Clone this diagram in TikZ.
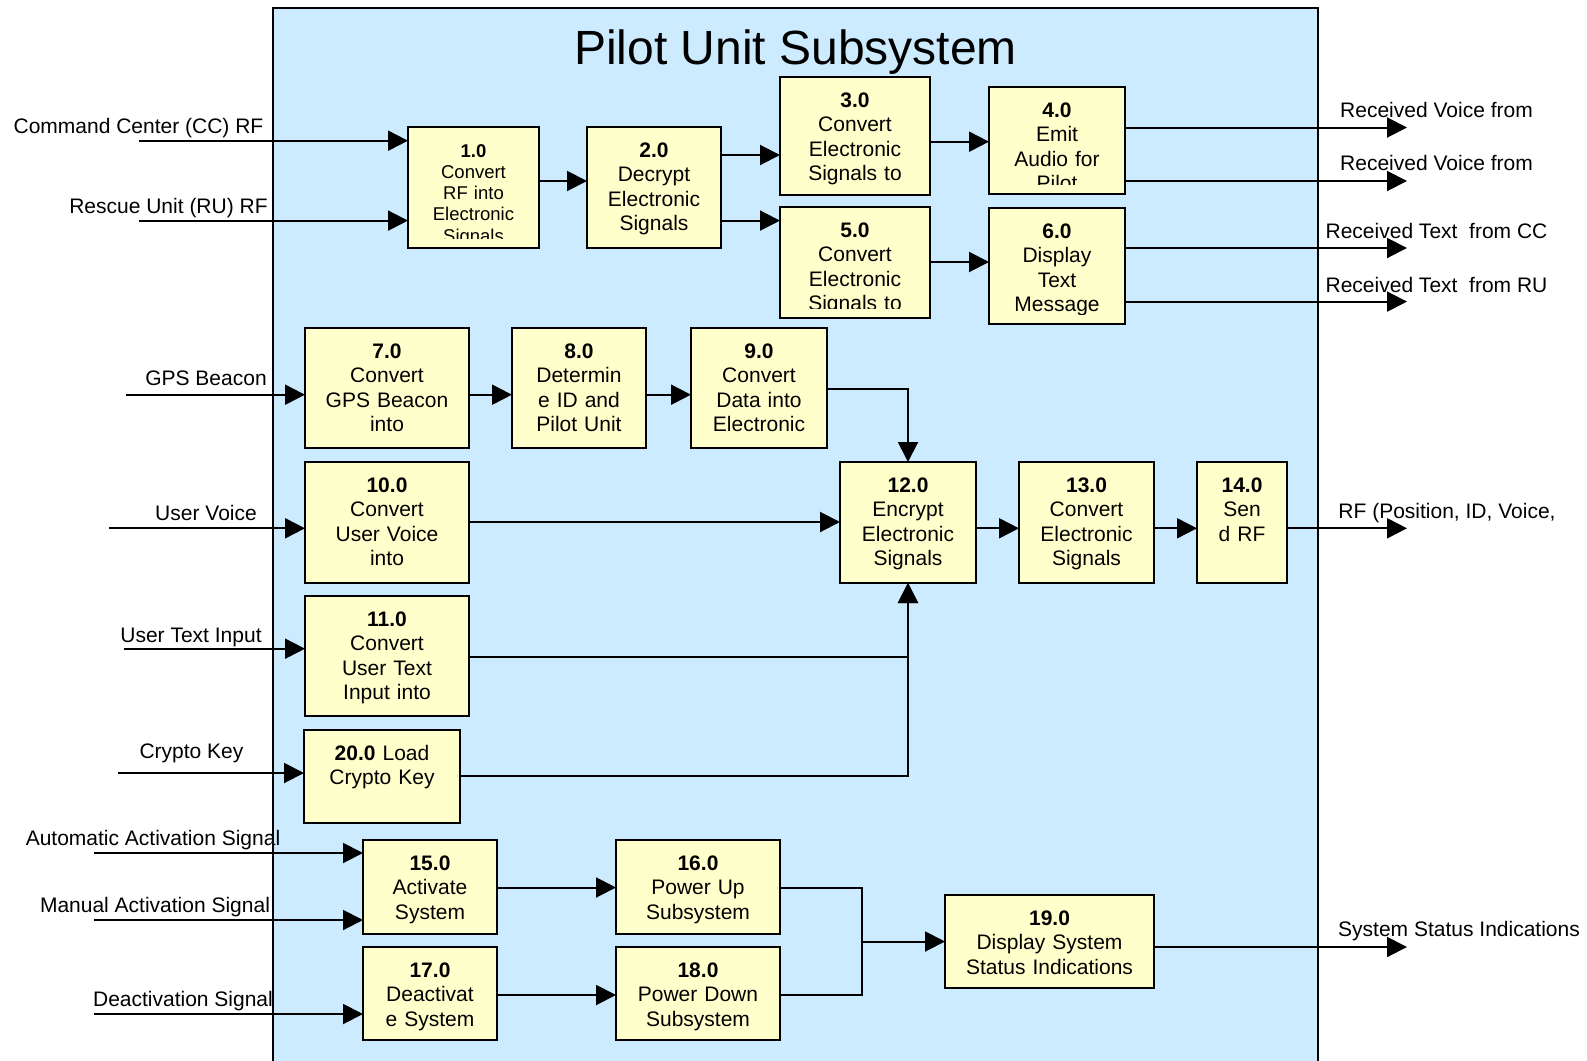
\documentclass[tikz,border=0pt]{standalone}
\usepackage{fontspec}
\setmainfont{Liberation Sans}
\usetikzlibrary{arrows.meta}

\definecolor{panelblue}{HTML}{CCEBFF}
\definecolor{boxyellow}{HTML}{FFFFCC}

\newcommand\bxfont{\fontsize{21}{24.6}\selectfont}
\newcommand\smfont{\fontsize{18.5}{21.3}\selectfont}
\newcommand\lbfont{\fontsize{21}{24}\selectfont}

\tikzset{
  pbox/.style={draw=black, line width=2pt, fill=boxyellow, inner sep=0pt,
               outer sep=0pt, anchor=north west},
  ptxt/.style={align=center, text width=300pt, inner sep=0pt, anchor=base},
  wire/.style={line width=2pt},
  flow/.style={line width=2pt, -{Triangle[length=20pt,width=20pt]}},
  lab/.style={font=\lbfont, inner sep=0pt, anchor=base},
}

% process box: name, x1, y1, x2, y2, font, text (text is cut off near the bottom edge)
\newcommand\procbox[7]{%
  \node[pbox, minimum width={#4-#2}, minimum height={#5-#3}] (#1) at (#2,#3) {};
  \begin{scope}
    \clip (#2,#3) rectangle ({#4},{#5-10});
    \node[ptxt, font=#6] (#1t) at ({(#2+#4)/2},{#3+30}) {#7};
  \end{scope}}

\begin{document}
\begin{tikzpicture}[x=1pt, y=-1pt]
\useasboundingbox (0,0) rectangle (1587,1060);
\clip (0,0) rectangle (1587,1060);

% subsystem panel
\fill[panelblue] (273,8) rectangle (1318,1080);
\draw[line width=2pt] (273,1080) -- (273,8) -- (1318,8) -- (1318,1080);
\node[font=\fontsize{48}{50}\selectfont, inner sep=0pt, anchor=base] (title) at (795.5,64.5) {Pilot Unit Subsystem};

% process boxes
\procbox{b1}{408}{127}{539}{248}{\smfont}{\textbf{1.0}\\Convert\\RF into\\Electronic\\Signals}
\procbox{b2}{587}{127}{721}{248}{\bxfont}{\textbf{2.0}\\Decrypt\\Electronic\\Signals}
\procbox{b3}{780}{77}{930}{195}{\bxfont}{\textbf{3.0}\\Convert\\Electronic\\Signals to}
\procbox{b4}{989}{87}{1125}{194}{\bxfont}{\textbf{4.0}\\Emit\\Audio for\\Pilot}
\procbox{b5}{780}{207}{930}{318}{\bxfont}{\textbf{5.0}\\Convert\\Electronic\\Signals to}
\procbox{b6}{989}{208}{1125}{324}{\bxfont}{\textbf{6.0}\\Display\\Text\\Message}
\procbox{b7}{305}{328}{469}{448}{\bxfont}{\textbf{7.0}\\Convert\\GPS Beacon\\into}
\procbox{b8}{512}{328}{646}{448}{\bxfont}{\textbf{8.0}\\Determin\\e ID and\\Pilot Unit}
\procbox{b9}{691}{328}{827}{448}{\bxfont}{\textbf{9.0}\\Convert\\Data into\\Electronic}
\procbox{b10}{305}{462}{469}{583}{\bxfont}{\textbf{10.0}\\Convert\\User Voice\\into}
\procbox{b11}{305}{596}{469}{716}{\bxfont}{\textbf{11.0}\\Convert\\User Text\\Input into}
\procbox{b20}{304}{730}{460}{823}{\bxfont}{\textbf{20.0} Load\\Crypto Key}
\procbox{b12}{840}{462}{976}{583}{\bxfont}{\textbf{12.0}\\Encrypt\\Electronic\\Signals}
\procbox{b13}{1019}{462}{1154}{583}{\bxfont}{\textbf{13.0}\\Convert\\Electronic\\Signals}
\procbox{b14}{1197}{462}{1287}{583}{\bxfont}{\textbf{14.0}\\Sen\\d RF}
\procbox{b15}{363}{840}{497}{934}{\bxfont}{\textbf{15.0}\\Activate\\System}
\procbox{b16}{616}{840}{780}{934}{\bxfont}{\textbf{16.0}\\Power Up\\Subsystem}
\procbox{b17}{363}{947}{497}{1040}{\bxfont}{\textbf{17.0}\\Deactivat\\e System}
\procbox{b18}{616}{947}{780}{1040}{\bxfont}{\textbf{18.0}\\Power Down\\Subsystem}
\procbox{b19}{945}{895}{1154}{988}{\bxfont}{\textbf{19.0}\\Display System\\Status Indications}

% free ends of the external flows
\coordinate (inCC)   at (139,140.7);
\coordinate (inRU)   at (139,220.6);
\coordinate (inGPS)  at (125.5,394.7);
\coordinate (inVoc)  at (109.3,528.3);
\coordinate (inTxt)  at (123.5,648.7);
\coordinate (inKey)  at (118.4,773);
\coordinate (inAuto) at (94,853);
\coordinate (inMan)  at (94,920);
\coordinate (inDeac) at (94,1014);
\coordinate (outV1)  at (1407,127.5);
\coordinate (outV2)  at (1407,181);
\coordinate (outT1)  at (1407,248);
\coordinate (outT2)  at (1407,301.6);
\coordinate (outRF)  at (1407,528.3);
\coordinate (outSt)  at (1407,947);
\coordinate (jn)     at (862,941.5);

% external labels
\node[lab] (lCC)   at (138.5,133) {Command Center (CC) RF};
\node[lab] (lRU)   at (168.5,213) {Rescue Unit (RU) RF};
\node[lab] (lGPS)  at (206,385) {GPS Beacon};
\node[lab] (lVoc)  at (206,520.5) {User Voice};
\node[lab] (lTxt)  at (191,642) {User Text Input};
\node[lab] (lKey)  at (191.5,758.5) {Crypto Key};
\node[lab] (lAuto) at (153,845.5) {Automatic Activation Signal};
\node[lab] (lMan)  at (155,912.5) {Manual Activation Signal};
\node[lab] (lDeac) at (183,1006.5) {Deactivation Signal};
\node[lab] (lV1)   at (1436.5,117) {Received Voice from};
\node[lab] (lV2)   at (1436.5,170.5) {Received Voice from};
\node[lab] (lT1)   at (1436.5,238) {Received Text\ \ from CC};
\node[lab] (lT2)   at (1436.5,292) {Received Text\ \ from RU};
\node[lab] (lRF)   at (1447,518.5) {RF (Position, ID, Voice,};
\node[lab] (lSt)   at (1459,936.5) {System Status Indications};

% incoming flows
\draw[flow] (inCC) -- (inCC -| b1.west);
\draw[flow] (inRU) -- (inRU -| b1.west);
\draw[flow] (inGPS) -- (inGPS -| b7.west);
\draw[flow] (inVoc) -- (inVoc -| b10.west);
\draw[flow] (inTxt) -- (inTxt -| b11.west);
\draw[flow] (inKey) -- (inKey -| b20.west);
\draw[flow] (inAuto) -- (inAuto -| b15.west);
\draw[flow] (inMan) -- (inMan -| b15.west);
\draw[flow] (inDeac) -- (inDeac -| b17.west);

% receive chain
\draw[flow] (b1.east |- 0,181) -- (b2.west |- 0,181);
\draw[flow] (b2.east |- 0,155) -- (b3.west |- 0,155);
\draw[flow] (b2.east |- 0,220.6) -- (b5.west |- 0,220.6);
\draw[flow] (b3.east |- 0,141.7) -- (b4.west |- 0,141.7);
\draw[flow] (b5.east |- 0,262) -- (b6.west |- 0,262);
\draw[flow] (b4.east |- outV1) -- (outV1);
\draw[flow] (b4.east |- outV2) -- (outV2);
\draw[flow] (b6.east |- outT1) -- (outT1);
\draw[flow] (b6.east |- outT2) -- (outT2);

% transmit chain
\draw[flow] (b7.east |- inGPS) -- (b8.west |- inGPS);
\draw[flow] (b8.east |- inGPS) -- (b9.west |- inGPS);
\draw[flow] (b9.east |- 0,388.6) -| (b12.north);
\draw[flow] (b10.east |- 0,522) -- (b12.west |- 0,522);
\draw[flow] (b11.east |- 0,656.8) -| (b12.south);
\draw[flow] (b20.east |- 0,776) -| (b12.south);
\draw[flow] (b12.east |- outRF) -- (b13.west |- outRF);
\draw[flow] (b13.east |- outRF) -- (b14.west |- outRF);
\draw[flow] (b14.east |- outRF) -- (outRF);

% power and status
\draw[flow] (b15.east |- 0,887.5) -- (b16.west |- 0,887.5);
\draw[flow] (b17.east |- 0,995) -- (b18.west |- 0,995);
\draw[wire] (b16.east |- 0,887.5) -| (jn) |- (b18.east |- 0,995);
\draw[flow] (jn) -- (b19.west |- jn);
\draw[flow] (b19.east |- outSt) -- (outSt);
\end{tikzpicture}
\end{document}
